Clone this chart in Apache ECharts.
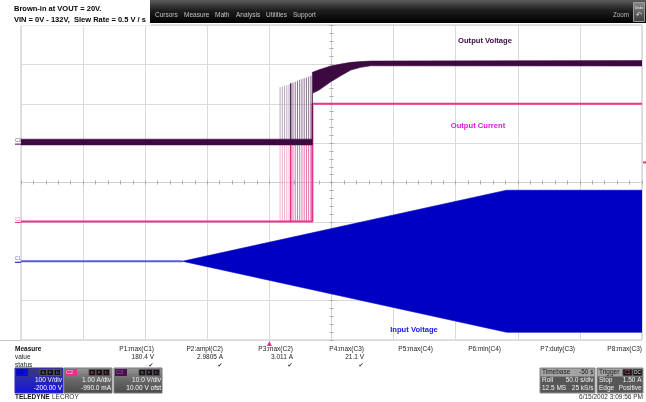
<!DOCTYPE html>
<html><head><meta charset="utf-8">
<script src="https://cdn.jsdelivr.net/npm/echarts@6/dist/echarts.min.js"></script>
<style>html,body{margin:0;padding:0;background:#fff;}#c{width:646px;height:402px;}</style>
</head><body><div id="c"></div>
<script>
const timeMin = 0, timeMax = 500, timeDiv = 50;           // s  (Roll, 50.0 s/div)
const divMin = -4, divMax = 4;                             // vertical divisions
// channel settings: scale per div and offset
const c1Scale = 100, c1Offset = -200;                      // V/div, V
const c2Scale = 1.0, c2Offset = -0.99;                     // A/div, A
const c3Scale = 10, c3Offset = 10;                         // V/div, V

// C1 Input Voltage (V)
const c1BaseTime  = [0, 130];
const c1BaseValue = [0, 0];
const c1EnvTime   = [130, 391, 500];
const c1EnvUpper  = [0, 180.4, 180.4];
const c1EnvLower  = [0, -180.4, -180.4];

// C2 Output Current (A)
const c2Time  = [0, 234.6, 234.6, 500];
const c2Value = [0, 0, 2.99, 2.99];

// C3 Output Voltage (V) envelope
const c3Time  = [0, 234.6, 234.6, 240.0, 249.4, 257.5, 265.5, 273.5, 281.5, 500];
const c3Upper = [1.0, 1.0, 17.97, 18.63, 19.57, 20.08, 20.51, 20.7, 20.84, 20.96];
const c3Lower = [-0.45, -0.45, 12.64, 13.48, 15.58, 17.11, 18.55, 19.24, 19.64, 19.6];

// hiccup pulses before start-up
const burstTime  = [208.6, 210.4, 212.2, 214.0, 215.8, 217.2, 219.0, 220.8, 222.6, 224.4, 226.2, 228.0, 229.8, 231.6, 233.4];
const burstC3Top = [14.2, 14.4, 14.6, 14.7, 14.9, 15.2, 15.4, 15.6, 15.8, 16.1, 16.3, 16.5, 16.7, 16.9, 17.1];
const burstC2Top = [2.0, 2.0, 2.0, 2.0, 2.0, 2.0, 2.0, 2.0, 2.0, 2.0, 2.0, 2.0, 2.0, 2.0, 2.0];

const triggerTime = 200, triggerLevel = 1.50;              // s, A

// measurement table
const measureNames  = ['P1:max(C1)', 'P2:ampl(C2)', 'P3:max(C2)', 'P4:max(C3)', 'P5:max(C4)', 'P6:min(C4)', 'P7:duty(C3)', 'P8:max(C3)'];
const measureValues = ['180.4 V', '2.9805 A', '3.011 A', '21.1 V', '', '', '', ''];
const measureStatus = [true, true, true, true, false, false, false, false];
const menuItems = ['Cursors', 'Measure', 'Math', 'Analysis', 'Utilities', 'Support'];

// ---------------- chart ----------------
const F = '"Liberation Sans", Arial, sans-serif';
const C1 = '#0000c2', C1b = '#5a5ad8', C2 = '#e8348c', C3 = '#3c0a40';
const chart = echarts.init(document.getElementById('c'));

function envelope(yAxisIndex, times, upper, lower, color, z) {
  return {
    type: 'custom', xAxisIndex: 0, yAxisIndex: yAxisIndex, z: z, silent: true, clip: true,
    data: [[times[0], upper[0]]],
    renderItem: function (params, api) {
      const pts = [];
      for (let i = 0; i < times.length; i++) pts.push(api.coord([times[i], upper[i]]));
      for (let i = times.length - 1; i >= 0; i--) pts.push(api.coord([times[i], lower[i]]));
      return { type: 'polygon', shape: { points: pts }, style: { fill: color, stroke: color, lineWidth: 0.6 } };
    }
  };
}
function stripes(yAxisIndex, tops, colors, z) {
  return {
    type: 'custom', xAxisIndex: 0, yAxisIndex: yAxisIndex, z: z, silent: true,
    data: burstTime.map((t, i) => [t, tops[i]]),
    renderItem: function (params, api) {
      const t = api.value(0), top = api.value(1);
      const p0 = api.coord([t, 0]), p1 = api.coord([t, top]);
      const i = params.dataIndex;
      const col = i < 5 ? colors[0] : (i === 5 ? colors[1] : colors[2]);
      return { type: 'line', shape: { x1: p0[0], y1: p0[1], x2: p1[0], y2: p1[1] },
               style: { stroke: col, lineWidth: i === 5 ? 1.4 : 1 } };
    }
  };
}

const gridCol = '#dadada', tickCol = '#a8a8a8';
const tickAxisX = (inside) => ({
  type: 'value', min: timeMin, max: timeMax, interval: timeDiv, position: 'bottom',
  axisLabel: { show: false },
  splitLine: { show: !inside, lineStyle: { color: gridCol, width: 1 } },
  axisLine: { show: true, onZero: true, onZeroAxisIndex: 0, lineStyle: { color: '#cfcfcf' } },
  axisTick: { show: true, inside: inside, length: 2, lineStyle: { color: tickCol } },
  minorTick: { show: true, splitNumber: 5, length: 2, lineStyle: { color: tickCol } }
});
const tickAxisY = (inside) => ({
  type: 'value', min: divMin, max: divMax, interval: 1, position: 'left',
  axisLabel: { show: false },
  splitLine: { show: !inside, lineStyle: { color: gridCol, width: 1 } },
  axisLine: { show: true, onZero: true, onZeroAxisIndex: 1, lineStyle: { color: '#cfcfcf' } },
  axisTick: { show: true, inside: inside, length: 2, lineStyle: { color: tickCol } },
  minorTick: { show: true, splitNumber: 5, length: 2, lineStyle: { color: tickCol } }
});
const hiddenY = (scale, offset) => ({
  type: 'value', show: false, min: divMin * scale - offset, max: divMax * scale - offset,
  axisLine: { onZero: false }, splitLine: { show: false }
});

chart.setOption({
  animation: false,
  grid: { left: 21, top: 25, width: 621, height: 315, show: true, borderColor: '#c4c4c4', borderWidth: 1 },
  xAxis: [
    tickAxisX(false),
    { type: 'value', show: false, min: -(timeMax - timeMin) / 2, max: (timeMax - timeMin) / 2, splitLine: { show: false }, axisLine: { onZero: false } },
    tickAxisX(true)
  ],
  yAxis: [
    tickAxisY(false),
    hiddenY(c1Scale, c1Offset),
    hiddenY(c2Scale, c2Offset),
    hiddenY(c3Scale, c3Offset),
    tickAxisY(true)
  ],
  series: [
    { type: 'line', xAxisIndex: 0, yAxisIndex: 1, z: 2, silent: true, showSymbol: false,
      data: c1BaseTime.map((t, i) => [t, c1BaseValue[i]]), lineStyle: { color: C1b, width: 2 } },
    envelope(1, c1EnvTime, c1EnvUpper, c1EnvLower, C1, 2),
    stripes(2, burstC2Top, ['#f4b2d1', '#e0207a', '#e872ab'], 3),
    { type: 'line', xAxisIndex: 0, yAxisIndex: 2, z: 3, silent: true, showSymbol: false,
      data: c2Time.map((t, i) => [t, c2Value[i]]), lineStyle: { color: C2, width: 2 } },
    stripes(3, burstC3Top, ['#bba8be', '#4a1a4e', '#8c7290'], 4),
    envelope(3, c3Time, c3Upper, c3Lower, C3, 5)
  ]
});

// ---------------- decorations ----------------
const g = [];
const txt = (x, y, s, opt) => g.push(Object.assign({ type: 'text', x: x, y: y, z: 100,
  style: Object.assign({ text: s, font: '6.5px ' + F, fill: '#222', textAlign: 'left', textVerticalAlign: 'middle', verticalAlign: 'middle' }, opt || {}) }));
const rect = (x, y, w, h, fill, stroke, z) => g.push({ type: 'rect', z: z || 90, shape: { x: x, y: y, width: w, height: h },
  style: { fill: fill, stroke: stroke || null, lineWidth: stroke ? 1 : 0 } });
const LG = (a, b, c) => new echarts.graphic.LinearGradient(0, 0, 0, 1, c ? [{ offset: 0, color: a }, { offset: 0.45, color: b }, { offset: 1, color: c }] : [{ offset: 0, color: a }, { offset: 1, color: b }]);

// header
rect(0, 0, 151, 25.6, '#ffffff', null, 95);
txt(14, 9, 'Brown-in at VOUT = 20V.', { font: 'bold 7.5px ' + F, fill: '#000' });
txt(14, 19.5, 'VIN = 0V - 132V,  Slew Rate = 0.5 V / s', { font: 'bold 7.5px ' + F, fill: '#000' });
rect(150, 0, 496, 23, LG('#5c5c5c', '#1e1e1e', '#000000'), null, 95);
const menuX = [155, 184, 215, 236, 266, 293];
menuItems.forEach((m, i) => txt(menuX[i], 15, m, { fill: '#c4c4c4', font: '6.5px ' + F }));
txt(613, 15, 'Zoom', { fill: '#b8b8b8', font: '6.3px ' + F });
rect(633.5, 2.5, 11, 19, LG('#8a8a8a', '#3a3a3a'), '#9a9a9a', 96);
txt(639, 8, 'Undo', { fill: '#eee', font: '3.6px ' + F, textAlign: 'center' });
txt(639, 15, '\u21b6', { fill: '#eee', font: '7px "DejaVu Sans"', textAlign: 'center' });

// plot labels
txt(485, 41, 'Output Voltage', { font: 'bold 7.6px ' + F, fill: C3, textAlign: 'center' });
txt(478, 126, 'Output Current', { font: 'bold 7.6px ' + F, fill: '#e614e6', textAlign: 'center' });
txt(414, 329.5, 'Input Voltage', { font: 'bold 7.6px ' + F, fill: '#1818e0', textAlign: 'center' });

// bottom line extension
g.push({ type: 'line', z: 80, shape: { x1: 0, y1: 340.5, x2: 21, y2: 340.5 }, style: { stroke: '#c4c4c4', lineWidth: 1 } });

// measure table
txt(15, 349, 'Measure', { font: 'bold 6.5px ' + F, fill: '#111' });
txt(15, 357, 'value', { fill: '#222' });
txt(15, 365, 'status', { fill: '#222' });
const colRight = [154, 223, 293, 364, 433, 501, 575, 642];
measureNames.forEach((n, i) => {
  txt(colRight[i], 349, n, { textAlign: 'right' });
  if (measureValues[i]) txt(colRight[i], 357, measureValues[i], { textAlign: 'right' });
  if (measureStatus[i]) txt(colRight[i] - 3, 365, '\u2714', { textAlign: 'center', font: '6px "DejaVu Sans"', fill: '#333' });
});

// channel boxes
function chanBox(x, name, labelFill, labelText, bg, border, l1, l2, letterCol) {
  rect(x, 368, 48, 25, bg, border);
  rect(x + 1, 369, 12, 7, labelFill, null, 91);
  txt(x + 2, 372.5, name, { font: '5.5px ' + F, fill: labelText, z: 92 });
  [25, 32, 39].forEach((dx, k) => {
    rect(x + dx, 369.5, 6.5, 6, '#111', '#555', 91);
    txt(x + dx + 3.25, 372.5, ['B', 'F', 'D'][k], { font: '4px ' + F, fill: letterCol, textAlign: 'center' });
  });
  txt(x + 47, 380.5, l1, { textAlign: 'right', fill: '#f4f4f4' });
  txt(x + 47, 388.5, l2, { textAlign: 'right', fill: '#ffffff' });
}
chanBox(15, 'C1', '#0c0cd8', '#00006a', LG('#3c3c66', '#2a2ab0', '#1414dc'), '#2a2ac8', '100 V/div', '-200.00 V', '#8080ff');
chanBox(64, 'C2', '#e8308a', '#ffd0e6', LG('#9a9a9a', '#6a6a6a', '#4a4a4a'), '#777', '1.00 A/div', '-990.0 mA', '#ff4aa0');
chanBox(114, 'C3', '#4a1050', '#9a60a0', LG('#9a9a9a', '#6a6a6a', '#4a4a4a'), '#777', '10.0 V/div', '10.00 V ofst', '#b070b8');
txt(15, 397.5, 'TELEDYNE', { font: 'bold 6.5px ' + F, fill: '#111' });
txt(52, 397.5, 'LECROY', { font: '6.5px ' + F, fill: '#333' });

// timebase / trigger
function infoBox(x, w, rows) {
  rect(x, 368, w, 25, '#575757', '#8a8a8a');
  rect(x + 0.5, 368.5, w - 1, 8, '#a4a4a4', null, 91);
  rows.forEach((r, k) => {
    const y = 372.5 + k * 8;
    const col = k === 0 ? '#151515' : '#f0f0f0';
    txt(x + 2, y, r[0], { fill: col });
    if (r[1]) txt(x + w - 1.5, y, r[1], { fill: col, textAlign: 'right' });
  });
}
infoBox(540, 55, [['Timebase', '-50 s'], ['Roll', '50.0 s/div'], ['12.5 MS', '25 kS/s']]);
infoBox(597, 46, [['Trigger', ''], ['Stop', '1.50 A'], ['Edge', 'Positive']]);
rect(623, 369.5, 9, 6, '#111', '#444', 92);
txt(627.5, 372.5, 'C2', { font: '4.5px ' + F, fill: '#ff4aa0', textAlign: 'center', z: 93 });
rect(633, 369.5, 9, 6, '#111', '#444', 92);
txt(637.5, 372.5, 'DC', { font: '4.5px ' + F, fill: '#eee', textAlign: 'center', z: 93 });
txt(643, 397.5, '6/15/2002 3:09:56 PM', { textAlign: 'right', fill: '#333' });

// channel ground markers (through the axes)
const p = (ya, t, v) => chart.convertToPixel({ xAxisIndex: 0, yAxisIndex: ya }, [t, v]);
const m3 = p(3, timeMin, 0), m2 = p(2, timeMin, 0), m1 = p(1, timeMin, 0);
[[m3, 'C3', '#6a4a6e', C3], [m2, 'C2', '#f080b8', C2], [m1, 'C1', '#6a6ad8', C1]].forEach(([pt, n, tc, lc]) => {
  g.push({ type: 'line', z: 99, shape: { x1: pt[0] - 6, y1: pt[1] + 1, x2: pt[0], y2: pt[1] + 1 }, style: { stroke: lc, lineWidth: 1 } });
  txt(pt[0] - 6, pt[1] - 2, n, { font: '4.5px ' + F, fill: tc });
});
// trigger time marker & trigger level marker
const tp = p(2, triggerTime, 0);
g.push({ type: 'polygon', z: 99, shape: { points: [[tp[0] - 2.5, 346], [tp[0] + 2.5, 346], [tp[0], 341]] }, style: { fill: C2 } });
const tl = p(2, timeMax, triggerLevel);
rect(tl[0] + 1, tl[1] - 1, 3, 2, C2, null, 99);

chart.setOption({ graphic: { elements: g } });
</script></body></html>
